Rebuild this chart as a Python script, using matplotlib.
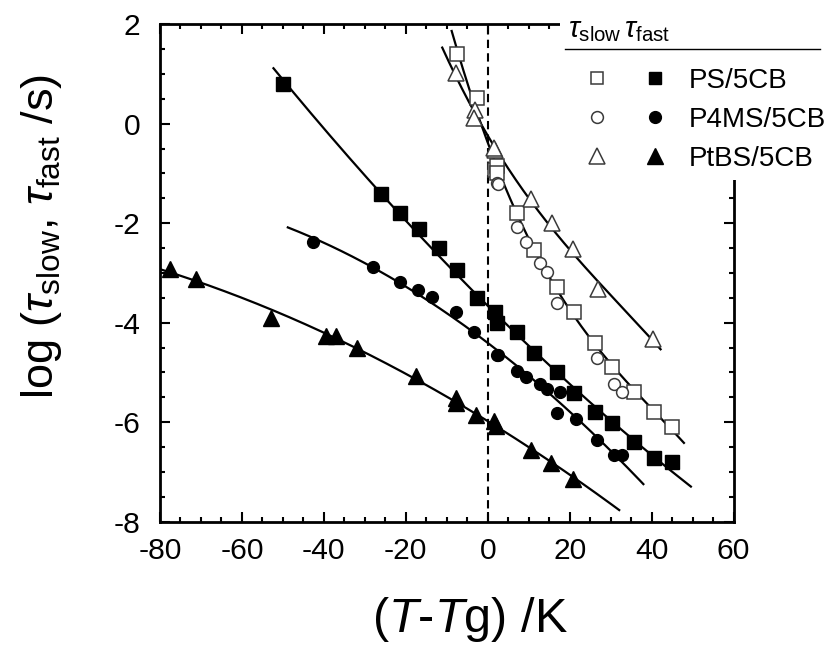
import numpy as np
import matplotlib
matplotlib.use("Agg")
import matplotlib.pyplot as plt
from matplotlib.lines import Line2D
from matplotlib.patches import Rectangle
from matplotlib.ticker import MultipleLocator

plt.rcParams["font.family"] = ["Liberation Sans", "DejaVu Sans"]
plt.rcParams["mathtext.fontset"] = "custom"
plt.rcParams["mathtext.rm"] = "Liberation Sans"
plt.rcParams["mathtext.it"] = "Liberation Sans:italic"
plt.rcParams["mathtext.sf"] = "Liberation Sans"
plt.rcParams["axes.unicode_minus"] = False

# ---- measured relaxation times, log(tau / s) versus T - Tg (K) ----
# PS/5CB
ps_fast_x = [-50.0, -26.0, -21.4, -16.8, -12.0, -7.4, -2.7, 1.8, 2.2, 7.2, 11.4,
             16.8, 21.1, 26.3, 30.3, 35.6, 40.5, 44.9]
ps_fast_y = [0.80, -1.42, -1.80, -2.12, -2.49, -2.95, -3.51, -3.79, -4.00, -4.19,
             -4.60, -5.00, -5.41, -5.79, -6.01, -6.39, -6.71, -6.81]
ps_slow_x = [-7.4, -2.7, 1.8, 2.2, 2.3, 7.2, 11.4, 16.8, 21.1, 26.3, 30.3, 35.6,
             40.5, 44.9]
ps_slow_y = [1.41, 0.51, -0.93, -0.86, -1.00, -1.80, -2.54, -3.29, -3.79, -4.40,
             -4.90, -5.40, -5.80, -6.10]

# P4MS/5CB
p4ms_fast_x = [-42.6, -28.1, -21.4, -17.1, -13.7, -7.7, -3.3, 2.3, 2.6, 7.1, 9.3,
               12.8, 14.4, 17.7, 17.0, 21.5, 26.8, 30.9, 32.9]
p4ms_fast_y = [-2.38, -2.89, -3.19, -3.34, -3.49, -3.79, -4.18, -4.65, -4.65,
               -4.98, -5.10, -5.24, -5.34, -5.39, -5.82, -5.94, -6.36, -6.66, -6.66]
p4ms_slow_x = [2.2, 2.6, 7.1, 9.3, 12.8, 14.4, 17.0, 26.8, 30.9, 32.9]
p4ms_slow_y = [-1.20, -1.21, -2.08, -2.38, -2.79, -2.98, -3.61, -4.70, -5.24, -5.40]

# PtBS/5CB
ptbs_fast_x = [-77.6, -71.2, -52.9, -39.5, -37.0, -32.0, -17.6, -7.8, -7.7, -2.9,
               1.5, 2.0, 10.5, 15.5, 20.9]
ptbs_fast_y = [-2.93, -3.13, -3.91, -4.27, -4.27, -4.51, -5.07, -5.52, -5.62,
               -5.86, -5.98, -6.07, -6.55, -6.83, -7.14]
ptbs_slow_x = [-7.7, -3.1, -3.3, 1.8, 1.5, 10.5, 15.6, 20.7, 27.0, 40.3]
ptbs_slow_y = [1.01, 0.28, 0.11, -0.53, -0.49, -1.52, -2.00, -2.52, -3.33, -4.33]

# temperature range covered by each fitted curve and the polynomial degree
fit_ranges = {
    "ps_fast": (-52.3, 49.6, 2),
    "p4ms_fast": (-48.8, 38.0, 2),
    "ptbs_fast": (-80.0, 32.1, 2),
    "ps_slow": (-8.8, 47.9, 3),
    "ptbs_slow": (-11.1, 42.2, 3),
}

series_labels = ["PS/5CB", "P4MS/5CB", "PtBS/5CB"]
x_ticks = [-80, -60, -40, -20, 0, 20, 40, 60]
y_ticks = [-8, -6, -4, -2, 0, 2]

W, H = 832, 645
fig = plt.figure(figsize=(W / 100, H / 100), dpi=100)
ax = fig.add_axes([160 / W, 1 - 521.7 / H, (733.5 - 160) / W, (521.7 - 24.2) / H])


def fx(px):
    return px / W


def fy(py):
    return 1 - py / H


def fit_curve(key, xs, ys):
    x0, x1, deg = fit_ranges[key]
    coef = np.polyfit(xs, ys, deg)
    xx = np.linspace(x0, x1, 200)
    ax.plot(xx, np.polyval(coef, xx), color="black", lw=1.6, zorder=2)


fit_curve("ps_fast", ps_fast_x, ps_fast_y)
fit_curve("p4ms_fast", p4ms_fast_x, p4ms_fast_y)
fit_curve("ptbs_fast", ptbs_fast_x, ptbs_fast_y)
fit_curve("ps_slow", ps_slow_x, ps_slow_y)
fit_curve("ptbs_slow", ptbs_slow_x, ptbs_slow_y)

ax.axvline(0, color="black", lw=1.5, ls=(0, (4, 2.5)), zorder=1)

open_kw = dict(ls="none", mfc="white", mec="#3a3a3a", mew=1.1, zorder=3)
fill_kw = dict(ls="none", color="black", zorder=4)
ax.plot(ps_slow_x, ps_slow_y, "s", ms=9.5, **open_kw)
ax.plot(p4ms_slow_x, p4ms_slow_y, "o", ms=8.5, **open_kw)
ax.plot(ptbs_slow_x, ptbs_slow_y, "^", ms=11, **open_kw)
ax.plot(ps_fast_x, ps_fast_y, "s", ms=9.5, **fill_kw)
ax.plot(p4ms_fast_x, p4ms_fast_y, "o", ms=8.5, **fill_kw)
ax.plot(ptbs_fast_x, ptbs_fast_y, "^", ms=11, **fill_kw)

ax.set_xlim(-80, 60)
ax.set_ylim(-8, 2)
ax.set_xticks(x_ticks)
ax.set_yticks(y_ticks)
ax.xaxis.set_minor_locator(MultipleLocator(5))
ax.yaxis.set_minor_locator(MultipleLocator(0.5))
ax.tick_params(which="both", direction="in", top=True, right=True, width=1.5,
               labelsize=21.6)
ax.tick_params(which="major", length=7.2)
ax.tick_params(which="minor", length=3.6)
ax.tick_params(axis="x", pad=11)
ax.tick_params(axis="y", pad=14)
for s in ax.spines.values():
    s.set_linewidth(2)

fig.text(fx(470), fy(632), r"($T$-$T$g) /K", fontsize=35, ha="center",
         va="baseline")
fig.text(fx(53), fy(236), r"log ($\tau_{\rm slow}$, $\tau_{\rm fast}$ /s)",
         fontsize=32.5, rotation=90, rotation_mode="anchor", ha="center",
         va="baseline")

# key panel in the upper right corner
fig.add_artist(Rectangle((fx(560), fy(180)), 1 - fx(560), fy(0) - fy(180),
                         transform=fig.transFigure, facecolor="white",
                         edgecolor="none", zorder=5))
fig.text(fx(568), fy(37), r"$\tau_{\rm slow}\,\tau_{\rm fast}$", fontsize=21,
         ha="left", va="baseline", zorder=6)
fig.add_artist(Line2D([fx(565), fx(820)], [fy(49.3), fy(49.3)],
                      transform=fig.transFigure, color="black", lw=1.0, zorder=6))
row_y = [78.3, 116.7, 155.5]
for lab, mk, ms, ry in zip(series_labels, ["s", "o", "^"], [9, 8.5, 11], row_y):
    fig.add_artist(Line2D([fx(596.7)], [fy(ry)], marker=mk, ms=ms, ls="none",
                          mfc="white", mec="#3a3a3a", mew=1.1,
                          transform=fig.transFigure, zorder=6))
    fig.add_artist(Line2D([fx(655)], [fy(ry)], marker=mk, ms=ms, ls="none",
                          color="black", transform=fig.transFigure, zorder=6))
    fig.text(fx(689), fy(ry + 10), lab, fontsize=20, ha="left",
             va="baseline", zorder=6)

fig.savefig("out.png", dpi=100)
